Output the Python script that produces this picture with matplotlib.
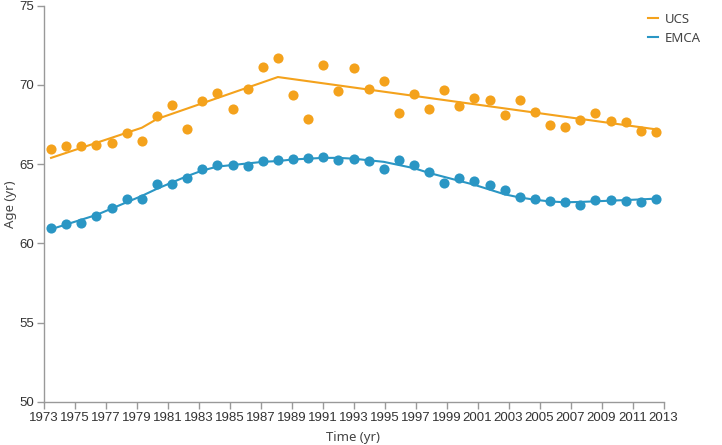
import numpy as np
import matplotlib
matplotlib.use('Agg')
import matplotlib.pyplot as plt

years = np.arange(1973, 2014)

# observed mean age per year
ucs_age = [65.95, 66.17, 66.14, 66.22, 66.32, 66.95, 66.45, 68.06, 68.74, 67.23,
           68.97, 69.50, 68.49, 69.73, 71.15, 71.72, 69.39, 67.84, 71.26, 69.60,
           71.07, 69.73, 70.25, 68.25, 69.43, 68.47, 69.68, 68.69, 69.20, 69.04,
           68.11, 69.04, 68.30, 67.50, 67.37, 67.79, 68.22, 67.75, 67.65, 67.12,
           67.06]
emca_age = [60.96, 61.24, 61.32, 61.76, 62.23, 62.83, 62.83, 63.76, 63.76, 64.14,
            64.72, 64.94, 64.97, 64.89, 65.19, 65.25, 65.33, 65.42, 65.48, 65.29,
            65.33, 65.21, 64.70, 65.27, 64.94, 64.53, 63.82, 64.16, 63.95, 63.68,
            63.38, 62.94, 62.81, 62.70, 62.62, 62.43, 62.75, 62.75, 62.70, 62.60,
            62.79]

# fitted trends
ucs_fit_years = [1973, 1979, 1980, 1988, 2013]
ucs_fit = [65.4, 67.3, 67.85, 70.5, 67.2]
emca_fit = [60.9, 61.2, 61.5, 61.8, 62.2, 62.6, 63.0, 63.45, 63.85, 64.25,
            64.6, 64.85, 64.95, 65.05, 65.15, 65.2, 65.3, 65.35, 65.4, 65.4,
            65.35, 65.25, 65.15, 64.95, 64.75, 64.45, 64.2, 63.95, 63.7, 63.4,
            63.1, 62.9, 62.76, 62.65, 62.6, 62.62, 62.66, 62.7, 62.74, 62.78,
            62.83]

orange = '#F4A21C'
blue = '#2A96C4'
grey = '#999999'
narrow = ['Liberation Sans Narrow', 'Liberation Sans', 'DejaVu Sans']
label_font = ['Noto Sans', 'DejaVu Sans']

x0, x1 = 1973, 2013
step = (x1 - x0) / len(years)  # one band per year across the axis


def pos(y):
    # centre of the band for year y
    return x0 + (np.asarray(y) - years[0] + 0.5) * step


fig = plt.figure(figsize=(7.22, 4.45), dpi=100)
ax = fig.add_axes([43.5/722, 43/445, (663.5-43.5)/722, (402-5.7)/445])

ax.plot(pos(ucs_fit_years), ucs_fit, color=orange, lw=1.5, label='UCS')
ax.plot(pos(years), emca_fit, color=blue, lw=1.5, label='EMCA')
ax.plot(pos(years), ucs_age, 'o', color=orange, ms=7.3, mec='none')
ax.plot(pos(years), emca_age, 'o', color=blue, ms=7.3, mec='none')

ax.set_xlim(x0, x1)
ax.set_ylim(50, 75)
ax.set_xticks(range(1973, 2014, 2))
ax.set_yticks(range(50, 76, 5))
for s in ['top', 'right']:
    ax.spines[s].set_visible(False)
for s in ['left', 'bottom']:
    ax.spines[s].set_color(grey)
    ax.spines[s].set_linewidth(1.0)
ax.tick_params(colors=grey, length=5, width=1.0, labelcolor='#333333', labelsize=9.5, pad=2)
for lbl in ax.get_xticklabels() + ax.get_yticklabels():
    lbl.set_family(narrow)

ax.set_xlabel('Time (yr)', family=label_font, fontsize=9.5, color='#444444', labelpad=5)
ax.set_ylabel('Age (yr)', family=label_font, fontsize=9.5, color='#444444')
ax.yaxis.set_label_coords(-0.043, 0.5)

leg = fig.legend(loc='upper left', bbox_to_anchor=(636/722, 1 - 1/445), frameon=False,
                 handlelength=0.8, handletextpad=0.5, labelspacing=0.45,
                 prop={'family': label_font, 'size': 9.5})
for t in leg.get_texts():
    t.set_color('#444444')

fig.savefig('out.png', dpi=100)
